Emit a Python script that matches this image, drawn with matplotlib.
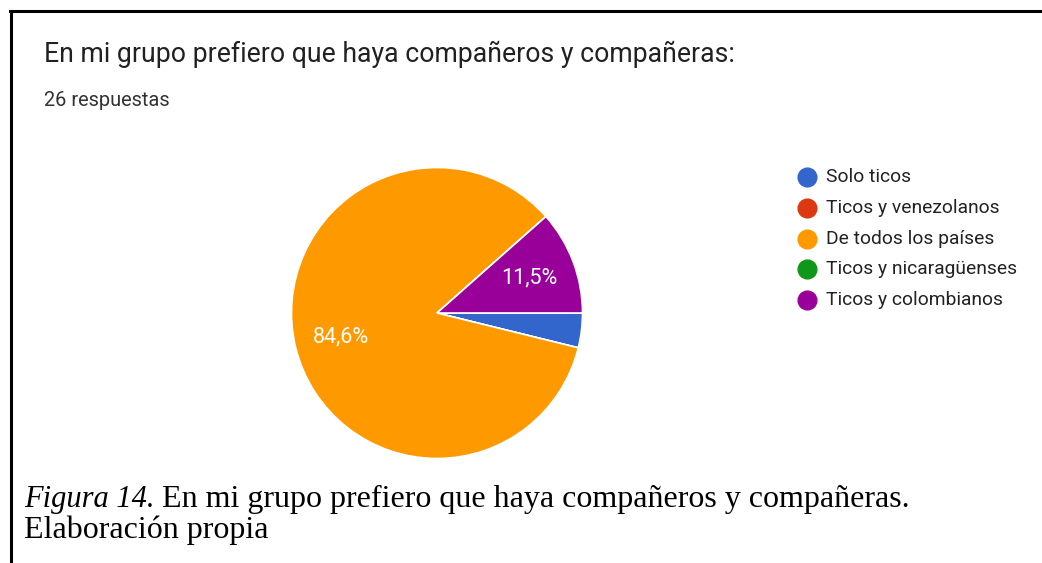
import matplotlib
matplotlib.use("Agg")
import matplotlib.pyplot as plt
from matplotlib.lines import Line2D

categories = ["Solo ticos", "Ticos y venezolanos", "De todos los países",
              "Ticos y nicaragüenses", "Ticos y colombianos"]
counts = [1, 0, 22, 0, 3]
colors = ["#3366cc", "#dc3912", "#ff9900", "#109618", "#990099"]
title = "En mi grupo prefiero que haya compañeros y compañeras:"
subtitle = "26 respuestas"
caption_italic = "Figura 14."
caption_rest = "En mi grupo prefiero que haya compañeros y compañeras."
caption_line2 = "Elaboración propia"

W, H = 1042, 563
fig = plt.figure(figsize=(W / 100, H / 100), dpi=100)
fig.patch.set_facecolor("white")


def fx(x):
    return x / W


def fy(y):
    return 1 - y / H


# pie axes
cx, cy, r = 437, 313, 145.5
ax = fig.add_axes([(cx - r) / W, (H - cy - r) / H, 2 * r / W, 2 * r / H])


def fmt(p):
    return (f"{p:.1f}%".replace(".", ",")) if p > 5 else ""


wedges, texts, autotexts = ax.pie(
    counts, colors=colors, startangle=0, counterclock=False,
    autopct=fmt, pctdistance=0.68, radius=1.0,
    wedgeprops=dict(edgecolor="white", linewidth=1.2),
    textprops=dict(color="white", fontsize=15.5, family="Roboto"))
ax.set_xlim(-1.0, 1.0)
ax.set_ylim(-1.0, 1.0)
ax.set_aspect("equal")

# titles
fig.text(fx(44), fy(62), title, fontsize=19.2, family="Roboto",
         color="#212121", va="baseline", ha="left")
fig.text(fx(44), fy(106), subtitle, fontsize=14.4, family="Roboto",
         color="#333333", va="baseline", ha="left")

# legend (manual rows)
row0, step = 177, 30.8
for i, (lab, c) in enumerate(zip(categories, colors)):
    y = row0 + i * step
    fig.add_artist(Line2D([fx(807)], [fy(y)], marker="o", markersize=13.5,
                          markerfacecolor=c, markeredgecolor=c,
                          linestyle="none", transform=fig.transFigure))
    fig.text(fx(826), fy(y), lab, fontsize=13.9, family="Roboto",
             color="#222222", va="center", ha="left")

# caption
t0 = fig.text(fx(24), fy(507), caption_italic, fontsize=22,
              family="Liberation Serif", style="italic", va="baseline",
              ha="left", color="black")
fig.text(fx(24), fy(538), caption_line2, fontsize=23,
         family="Liberation Serif", va="baseline", ha="left", color="black")

# border lines
fig.add_artist(Line2D([fx(11), fx(11)], [0, fy(11)], color="black",
                      linewidth=2.2, transform=fig.transFigure))
fig.add_artist(Line2D([fx(10), 1], [fy(11), fy(11)], color="black",
                      linewidth=2.2, transform=fig.transFigure))

fig.canvas.draw()
bb = t0.get_window_extent(fig.canvas.get_renderer())
fig.text((bb.x1 + 7) / W, fy(507), caption_rest, fontsize=23,
         family="Liberation Serif", va="baseline", ha="left", color="black")

fig.savefig("out.png", dpi=100, facecolor="white")
